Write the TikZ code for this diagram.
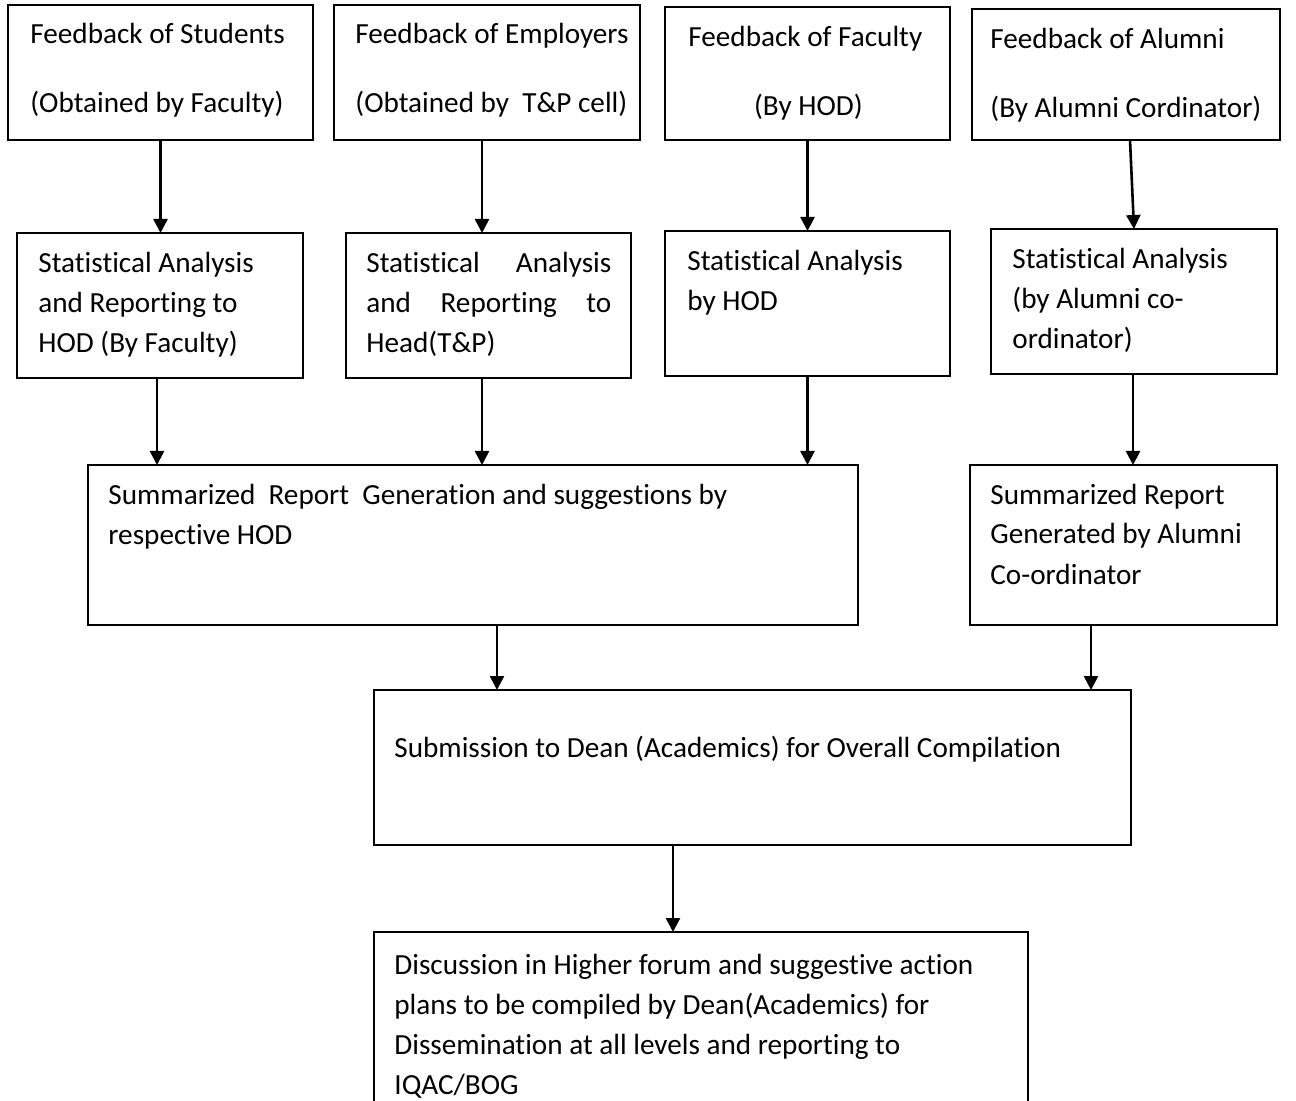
\documentclass[tikz,border=0pt]{standalone}
\usepackage{fontspec}
\setmainfont{Carlito}[Ligatures=NoCommon]
\usetikzlibrary{arrows.meta,calc}

\newcommand\flowbox[5]{% name, left, top, width, height (in px)
	\node[box, minimum width=#4*0.5pt, minimum height=#5*0.5pt] (#1) at (#2,#3) {};
}

\begin{document}
\begin{tikzpicture}[x=0.5pt, y=-0.5pt,
	box/.style={draw, line width=1pt, anchor=north west, inner sep=0pt, outer sep=0pt},
	txt/.style={anchor=base west, inner sep=0pt, align=flush left, text width=380pt,
		font=\fontsize{14.6}{20}\selectfont},
	arr/.style={line width=1.3pt, -{Triangle[length=7pt,width=7pt]}}]
	\useasboundingbox (0,0) rectangle (1296,1101);

	% feedback sources
	\flowbox{fbstud}{8}{5}{305}{135}
	\flowbox{fbemp}{334}{5}{306}{135}
	\flowbox{fbfac}{665}{7}{285}{133}
	\flowbox{fbalum}{972}{9}{308}{131}
	\node[txt] (tfbstud) at (30,44) {Feedback of Students\\[14.5pt](Obtained by Faculty)};
	\node[txt] (tfbemp) at (355,44) {Feedback of Employers\\[14.5pt](Obtained by~ T\&P cell)};
	\node[txt] (tfbfac) at (688,47) {Feedback of Faculty\\[14.5pt]\makebox[120pt][c]{(By HOD)}};
	\node[txt] (tfbalum) at (990,49) {Feedback of Alumni\\[14.5pt](By Alumni Cordinator)};

	% statistical analysis
	\flowbox{sastud}{17}{233}{286}{145}
	\flowbox{saemp}{346}{233}{285}{145}
	\flowbox{safac}{665}{231}{285}{145}
	\flowbox{saalum}{991}{229}{286}{145}
	\node[txt] (tsastud) at (38,273) {Statistical Analysis\\and Reporting to\\HOD (By Faculty)};
	\node[txt, text width=122.5pt] (tsaemp) at (366,273) {Statistical\hfill Analysis\\and\hfill Reporting\hfill to\\Head(T\&P)};
	\node[txt] (tsafac) at (687,271) {Statistical Analysis\\by HOD};
	\node[txt] (tsaalum) at (1012,269) {Statistical Analysis\\(by Alumni co-\\ordinator)};

	% summaries
	\flowbox{summ}{88}{465}{770}{160}
	\flowbox{sumalum}{970}{465}{307}{160}
	\node[txt] (tsumm) at (108,505) {Summarized~ Report~ Generation and suggestions by\\respective HOD};
	\node[txt] (tsumalum) at (990,504) {Summarized Report\\Generated by Alumni\\Co-ordinator};

	% dean and higher forum
	\flowbox{sub}{374}{690}{757}{155}
	\flowbox{disc}{374}{932}{654}{190}
	\node[txt] (tsub) at (394,757) {Submission to Dean (Academics) for Overall Compilation};
	\node[txt] (tdisc) at (394,974) {Discussion in Higher forum and suggestive action\\plans to be compiled by Dean(Academics) for\\Dissemination at all levels and reporting to\\IQAC/BOG};

	% connectors
	\foreach \from/\to/\dx in {fbstud/sastud/0, fbemp/saemp/-5, fbfac/safac/0,
		sastud/summ/-3, saemp/summ/-6.5, safac/summ/0, saalum/sumalum/-1,
		summ/sub/24, sumalum/sub/-32.5, sub/disc/-79.5} {
		\coordinate (tail) at ($(\from.south)+(\dx,0)$);
		\draw[arr] (tail) -- (tail |- \to.north);
	}
	\draw[arr] ($(fbalum.south)+(4,0)$) -- (saalum.north);
\end{tikzpicture}
\end{document}
